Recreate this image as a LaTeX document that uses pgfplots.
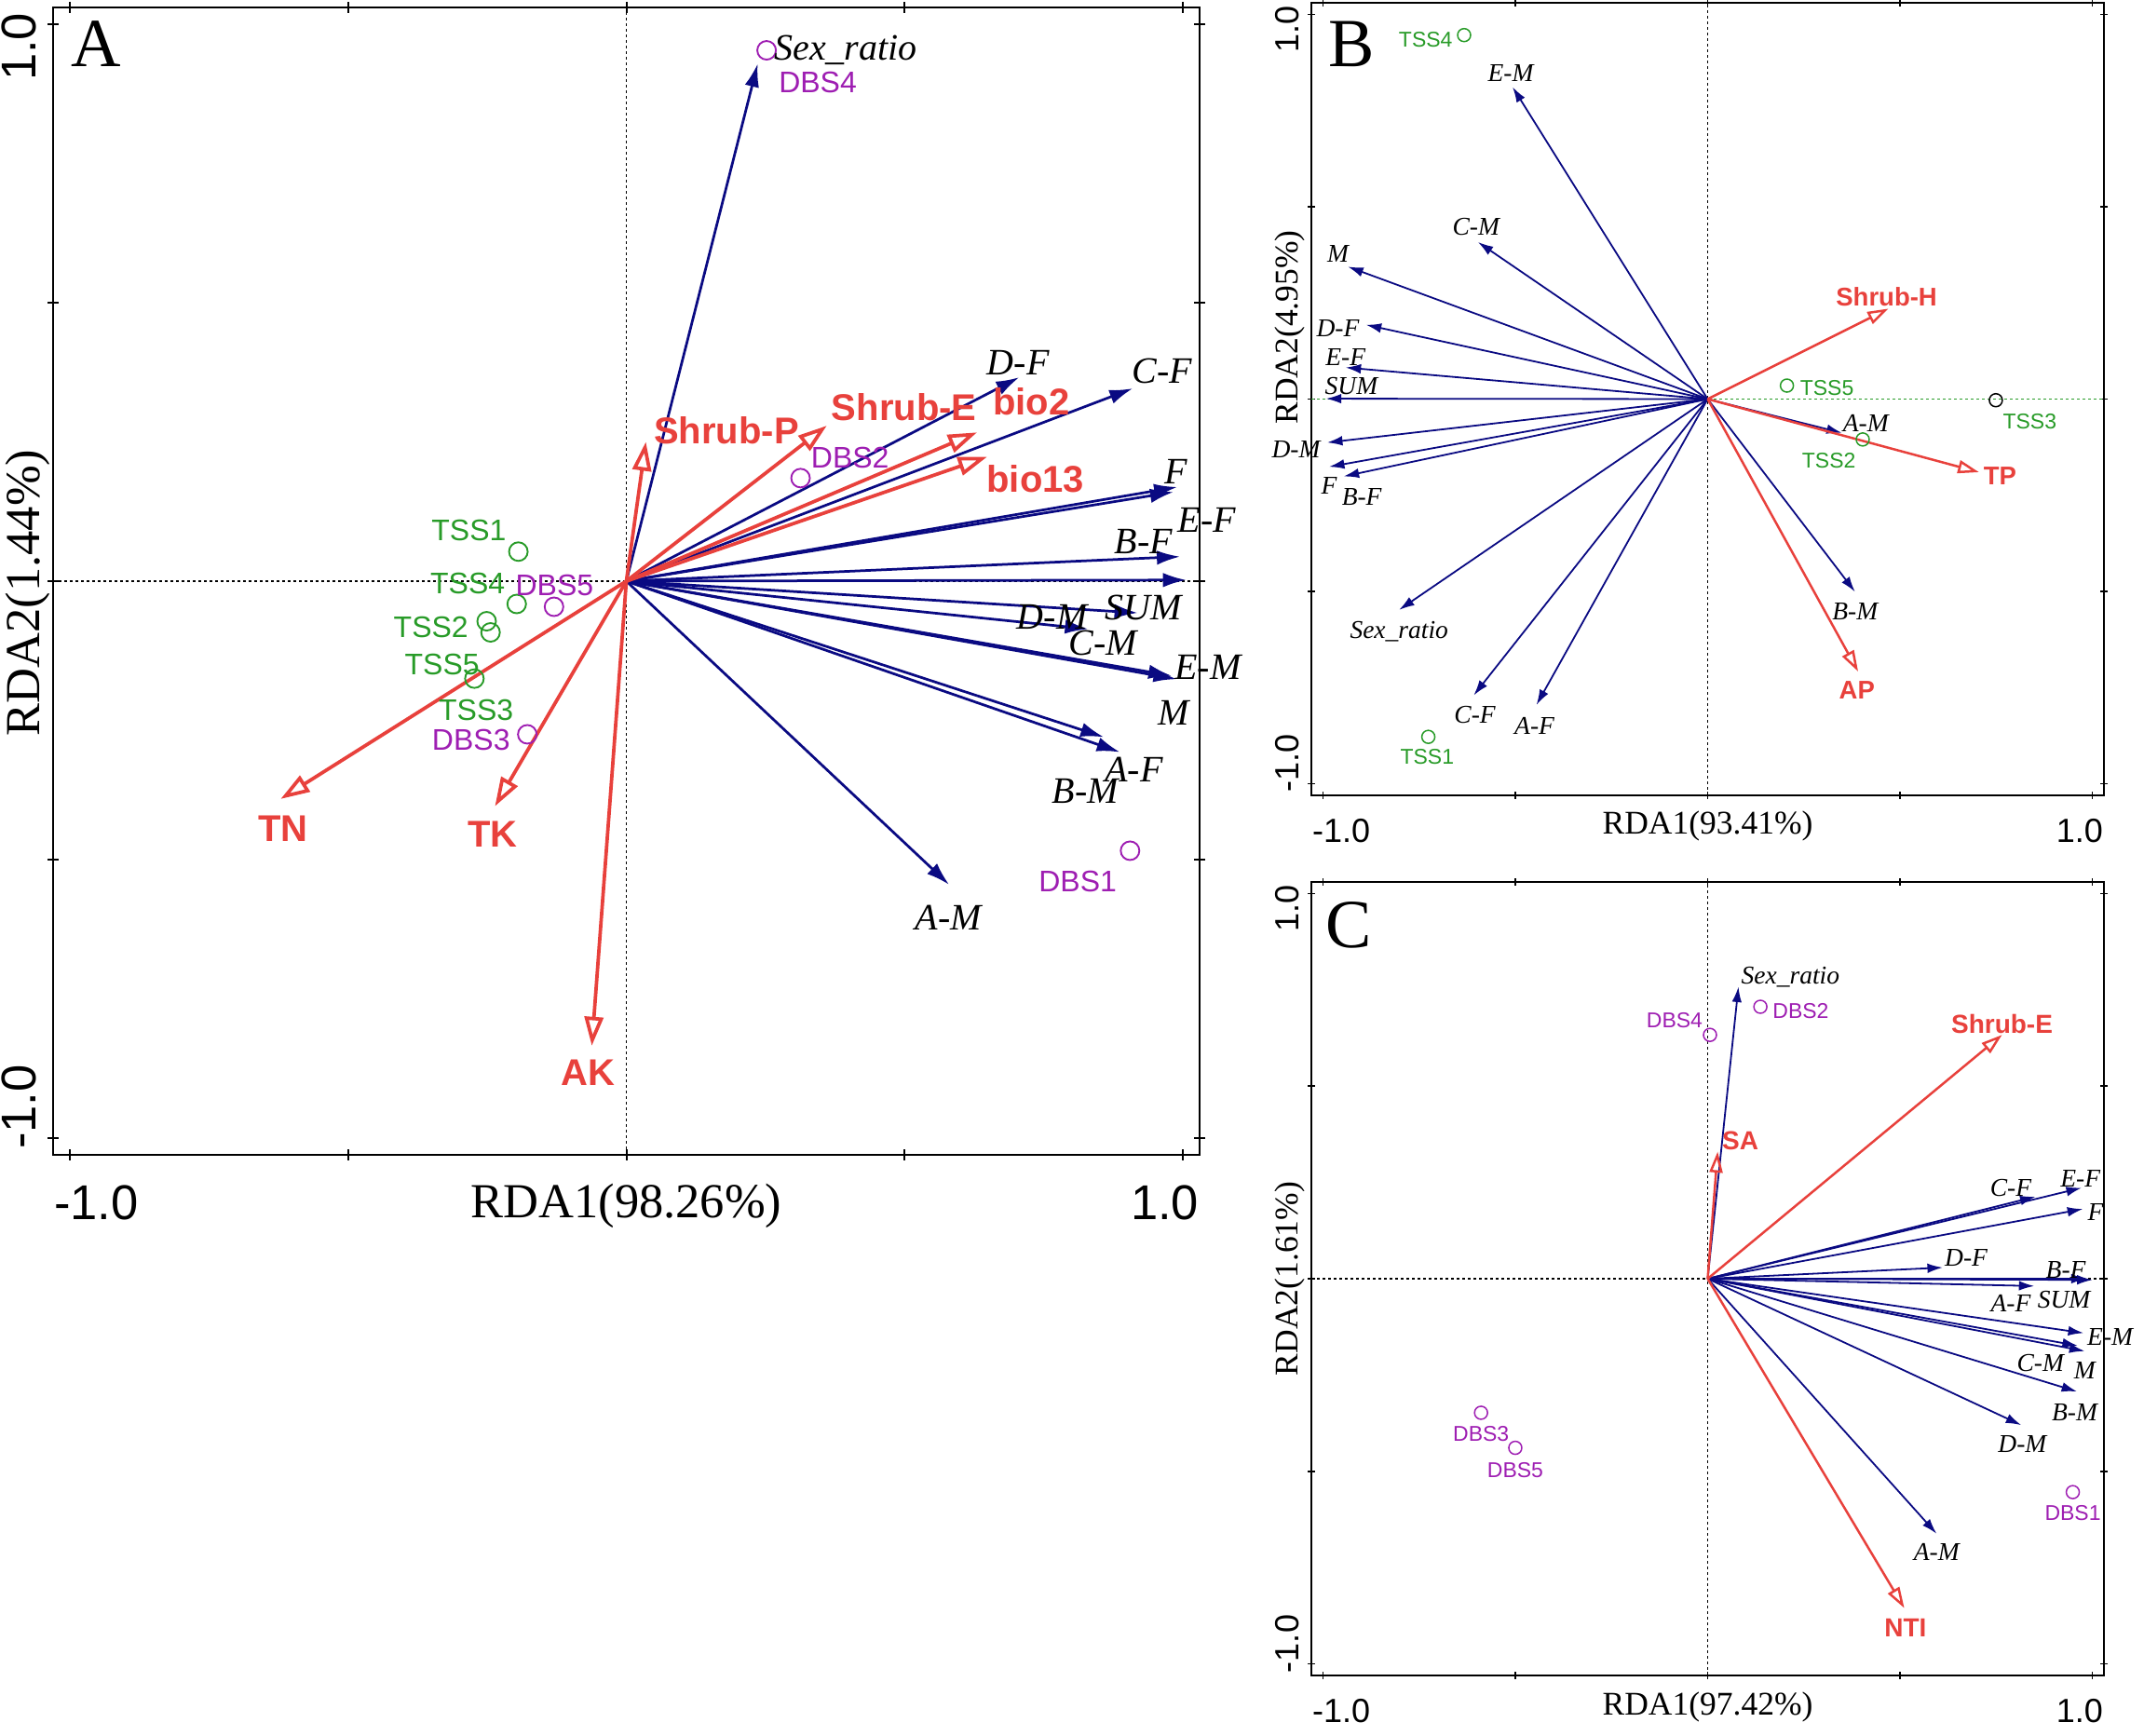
\documentclass[border=0pt]{standalone}
\usepackage{fontspec}
\setmainfont{Liberation Serif}
\setsansfont{Liberation Sans}
\usepackage{pgfplots}
\usepackage{pgfplotstable}
\pgfplotsset{compat=1.18}
\usetikzlibrary{arrows.meta}

\definecolor{rdablue}{RGB}{10,10,130}
\definecolor{rdared}{RGB}{232,65,60}
\definecolor{rdagreen}{RGB}{40,155,40}
\definecolor{rdapurple}{RGB}{158,30,178}

% x y = arrow tip, lx ly = centre of its label
\pgfplotstableread{
x y lx ly name
0.236 0.929 0.394 0.954 {Sex\_ratio}
0.706 0.366 0.704 0.393 D-F
0.910 0.346 0.963 0.377 C-F
0.990 0.169 0.987 0.197 F
0.983 0.160 1.043 0.109 E-F
0.995 0.044 0.929 0.071 B-F
1.006 0.002 0.929 -0.047 SUM
0.919 -0.057 0.765 -0.065 D-M
0.830 -0.086 0.857 -0.111 C-M
0.989 -0.176 1.045 -0.155 E-M
0.980 -0.170 0.984 -0.237 M
0.887 -0.307 0.912 -0.339 A-F
0.858 -0.280 0.825 -0.377 B-M
0.580 -0.545 0.579 -0.604 A-M
}\Asp
\pgfplotstableread{
x y lx ly name
0.035 0.250 0.180 0.271 Shrub-P
0.360 0.279 0.499 0.312 Shrub-E
0.630 0.267 0.728 0.322 bio2
0.648 0.223 0.735 0.183 bio13
-0.621 -0.391 -0.617 -0.444 TN
-0.236 -0.404 -0.240 -0.455 TK
-0.062 -0.834 -0.069 -0.882 AK
}\Aenv
\pgfplotstableread{
x y lx ly name
-0.194 0.053 -0.283 0.091 TSS1
-0.197 -0.041 -0.285 -0.004 TSS4
-0.251 -0.072 -0.351 -0.082 TSS2
-0.244 -0.092 -0.331 -0.149 TSS5
-0.273 -0.175 -0.270 -0.231 TSS3
}\Atss
\pgfplotstableread{
x y lx ly name
0.252 0.953 0.344 0.896 DBS4
0.313 0.185 0.402 0.221 DBS2
-0.130 -0.046 -0.129 -0.008 DBS5
-0.178 -0.275 -0.279 -0.285 DBS3
0.905 -0.484 0.811 -0.540 DBS1
}\Adbs

\pgfplotstableread{
x y lx ly name
-0.507 0.811 -0.512 0.846 E-M
-0.597 0.408 -0.602 0.447 C-M
-0.935 0.344 -0.961 0.377 M
-0.888 0.193 -0.961 0.184 D-F
-0.941 0.082 -0.941 0.110 E-F
-0.992 0.001 -0.926 0.033 SUM
-0.989 -0.113 -1.070 -0.130 D-M
-0.984 -0.176 -0.984 -0.226 F
-0.946 -0.201 -0.899 -0.255 B-F
-0.802 -0.548 -0.802 -0.604 {Sex\_ratio}
-0.608 -0.770 -0.605 -0.821 C-F
-0.445 -0.795 -0.450 -0.849 A-F
0.349 -0.088 0.411 -0.062 A-M
0.383 -0.501 0.383 -0.552 B-M
}\Bsp
\pgfplotstableread{
x y lx ly name
0.470 0.235 0.465 0.266 Shrub-H
0.705 -0.190 0.760 -0.201 TP
0.391 -0.708 0.388 -0.756 AP
}\Benv
\pgfplotstableread{
x y lx ly name
-0.633 0.946 -0.733 0.934 TSS4
0.206 0.035 0.310 0.028 TSS5
0.749 -0.003 0.837 -0.059 TSS3
0.403 -0.105 0.315 -0.161 TSS2
-0.726 -0.878 -0.729 -0.930 TSS1
}\Btss

\pgfplotstableread{
x y lx ly name
0.080 0.758 0.215 0.783 {Sex\_ratio}
0.852 0.213 0.788 0.236 C-F
0.972 0.236 0.969 0.261 E-F
0.975 0.181 1.008 0.172 F
0.611 0.029 0.672 0.054 D-F
0.985 0.000 0.931 0.022 B-F
1.000 -0.003 0.926 -0.055 SUM
0.849 -0.019 0.788 -0.065 A-F
0.977 -0.141 1.046 -0.152 E-M
0.962 -0.174 0.865 -0.219 C-M
0.980 -0.188 0.980 -0.239 M
0.960 -0.293 0.954 -0.348 B-M
0.815 -0.380 0.818 -0.430 D-M
0.595 -0.662 0.595 -0.710 A-M
}\Csp
\pgfplotstableread{
x y lx ly name
0.765 0.633 0.765 0.662 Shrub-E
0.026 0.330 0.085 0.359 SA
0.511 -0.855 0.514 -0.906 NTI
}\Cenv
\pgfplotstableread{
x y lx ly name
0.006 0.633 -0.086 0.671 DBS4
0.137 0.706 0.242 0.696 DBS2
-0.589 -0.348 -0.589 -0.403 DBS3
-0.500 -0.439 -0.500 -0.496 DBS5
0.949 -0.554 0.949 -0.609 DBS1
}\Cdbs

\pgfplotsset{
  rda/.style={scale only axis, clip=false,
    xmin=-1.03, xmax=1.03, ymin=-1.03, ymax=1.03,
    xtick={-1,-0.5,0,0.5,1}, ytick={-1,-0.5,0,0.5,1},
    xticklabels={}, yticklabels={},
    tick align=center, major tick length=#1,
    axis line style={line width=0.45pt},
    every tick/.style={black, line width=0.4pt}},
  zero/.style={black, line width=0.3pt, dash pattern=on 0.6pt off 0.6pt},
  arr/.style n args={4}{#1, line width=#2, #4,
    quiver={u=\thisrow{x}, v=\thisrow{y}}},
  lab/.style 2 args={draw=none, mark=none, nodes near coords,
    point meta=explicit symbolic,
    every node near coord/.style={anchor=center, inner sep=0pt, text=#1, font=#2}},
  pts/.style 2 args={only marks, mark=o, mark size=#2, #1,
    mark options={line width=0.38pt}},
}

\newcommand{\fs}[1]{\fontsize{#1}{#1}\selectfont}

\begin{document}
\begin{tikzpicture}
\useasboundingbox (0,0) rectangle (460.4pt,372.6pt);

% ---------------- A ----------------
\begin{axis}[rda=2.4pt, at={(11.4pt,371.0pt)}, anchor=north west,
  width=246.2pt, height=246.4pt]
  \addplot[zero] coordinates {(-1.03,0) (1.03,0)};
  \addplot[zero] coordinates {(0,-1.03) (0,1.03)};
  \addplot[arr={rdablue}{0.55pt}{}{-{Latex[length=5pt,width=3.1pt]}}]
    table[x expr=0, y expr=0] {\Asp};
  \addplot[arr={rdared}{0.75pt}{}{-{Triangle[open,length=6.2pt,width=4pt]}}]
    table[x expr=0, y expr=0] {\Aenv};
  \addplot[pts={rdagreen}{2pt}] table[x=x, y=y] {\Atss};
  \addplot[pts={rdapurple}{2pt}] table[x=x, y=y] {\Adbs};
  \addplot[lab={black}{\fs{8}\itshape}] table[x=lx, y=ly, meta=name] {\Asp};
  \addplot[lab={rdared}{\fs{8}\sffamily\bfseries}] table[x=lx, y=ly, meta=name] {\Aenv};
  \addplot[lab={rdagreen}{\fs{6.4}\sffamily}] table[x=lx, y=ly, meta=name] {\Atss};
  \addplot[lab={rdapurple}{\fs{6.4}\sffamily}] table[x=lx, y=ly, meta=name] {\Adbs};
  % tick numbers and titles
  \node[anchor=north west, inner sep=0pt, font=\fs{10.5}\sffamily]
    at ([yshift=-6.4pt]rel axis cs:0,0) {-1.0};
  \node[anchor=north east, inner sep=0pt, font=\fs{10.5}\sffamily]
    at ([yshift=-6.4pt]rel axis cs:1,0) {1.0};
  \node[rotate=90, anchor=south east, inner sep=0pt, font=\fs{10.5}\sffamily]
    at ([xshift=-3.4pt,yshift=-1pt]rel axis cs:0,1) {1.0};
  \node[rotate=90, anchor=south west, inner sep=0pt, font=\fs{10.5}\sffamily]
    at ([xshift=-3.4pt,yshift=1pt]rel axis cs:0,0) {-1.0};
  \node[anchor=base, inner sep=0pt, font=\fs{10.5}]
    at ([yshift=-13.6pt]axis description cs:0.5,0) {RDA1(98.26\%)};
  \node[rotate=90, anchor=base, inner sep=0pt, font=\fs{10.5}]
    at ([xshift=-3pt,yshift=-2.5pt]axis description cs:0,0.5) {RDA2(1.44\%)};
  \node[anchor=north west, inner sep=0pt, font=\fs{14.8}]
    at ([xshift=3.6pt,yshift=-2.8pt]rel axis cs:0,1) {A};
\end{axis}

% ---------------- B ----------------
\begin{axis}[rda=1.6pt, at={(281.6pt,372.0pt)}, anchor=north west,
  width=170.2pt, height=170.2pt, axis line style={line width=0.32pt},
  every tick/.style={black, line width=0.3pt}]
  \addplot[zero, rdagreen] coordinates {(-1.03,0) (1.03,0)};
  \addplot[zero] coordinates {(0,-1.03) (0,1.03)};
  \addplot[arr={rdablue}{0.36pt}{}{-{Latex[length=3.3pt,width=2.1pt]}}]
    table[x expr=0, y expr=0] {\Bsp};
  \addplot[arr={rdared}{0.5pt}{}{-{Triangle[open,length=4.5pt,width=2.8pt]}}]
    table[x expr=0, y expr=0] {\Benv};
  \addplot[pts={rdagreen}{1.4pt}, mark options={line width=0.3pt}]
    coordinates {(-0.633,0.946) (0.206,0.035) (0.403,-0.105) (-0.726,-0.878)};
  \addplot[pts={black}{1.4pt}, mark options={line width=0.3pt}]
    coordinates {(0.749,-0.003)};
  \addplot[lab={black}{\fs{5.5}\itshape}] table[x=lx, y=ly, meta=name] {\Bsp};
  \addplot[lab={rdared}{\fs{5.5}\sffamily\bfseries}] table[x=lx, y=ly, meta=name] {\Benv};
  \addplot[lab={rdagreen}{\fs{4.6}\sffamily}] table[x=lx, y=ly, meta=name] {\Btss};
  \node[anchor=north west, inner sep=0pt, font=\fs{7.2}\sffamily]
    at ([yshift=-4.8pt]rel axis cs:0,0) {-1.0};
  \node[anchor=north east, inner sep=0pt, font=\fs{7.2}\sffamily]
    at ([yshift=-4.8pt]rel axis cs:1,0) {1.0};
  \node[rotate=90, anchor=south east, inner sep=0pt, font=\fs{7.2}\sffamily]
    at ([xshift=-2.4pt,yshift=-0.4pt]rel axis cs:0,1) {1.0};
  \node[rotate=90, anchor=south west, inner sep=0pt, font=\fs{7.2}\sffamily]
    at ([xshift=-2.4pt,yshift=0.4pt]rel axis cs:0,0) {-1.0};
  \node[anchor=base, inner sep=0pt, font=\fs{7.1}]
    at ([yshift=-8.4pt]axis description cs:0.5,0) {RDA1(93.41\%)};
  \node[rotate=90, anchor=base, inner sep=0pt, font=\fs{7.1}]
    at ([xshift=-3pt,yshift=15.4pt]axis description cs:0,0.5) {RDA2(4.95\%)};
  \node[anchor=north west, inner sep=0pt, font=\fs{14.8}]
    at ([xshift=3.4pt,yshift=-3.8pt]rel axis cs:0,1) {B};
\end{axis}

% ---------------- C ----------------
\begin{axis}[rda=1.6pt, at={(281.6pt,183.2pt)}, anchor=north west,
  width=170.2pt, height=170.4pt, axis line style={line width=0.32pt},
  every tick/.style={black, line width=0.3pt}]
  \addplot[zero] coordinates {(-1.03,0) (1.03,0)};
  \addplot[zero] coordinates {(0,-1.03) (0,1.03)};
  \addplot[arr={rdablue}{0.36pt}{}{-{Latex[length=3.3pt,width=2.1pt]}}]
    table[x expr=0, y expr=0] {\Csp};
  \addplot[arr={rdared}{0.5pt}{}{-{Triangle[open,length=4.5pt,width=2.8pt]}}]
    table[x expr=0, y expr=0] {\Cenv};
  \addplot[pts={rdapurple}{1.4pt}, mark options={line width=0.3pt}]
    table[x=x, y=y] {\Cdbs};
  \addplot[lab={black}{\fs{5.5}\itshape}] table[x=lx, y=ly, meta=name] {\Csp};
  \addplot[lab={rdared}{\fs{5.6}\sffamily\bfseries}] table[x=lx, y=ly, meta=name] {\Cenv};
  \addplot[lab={rdapurple}{\fs{4.6}\sffamily}] table[x=lx, y=ly, meta=name] {\Cdbs};
  \node[anchor=north west, inner sep=0pt, font=\fs{7.2}\sffamily]
    at ([yshift=-4.8pt]rel axis cs:0,0) {-1.0};
  \node[anchor=north east, inner sep=0pt, font=\fs{7.2}\sffamily]
    at ([yshift=-4.8pt]rel axis cs:1,0) {1.0};
  \node[rotate=90, anchor=south east, inner sep=0pt, font=\fs{7.2}\sffamily]
    at ([xshift=-2.4pt,yshift=-0.4pt]rel axis cs:0,1) {1.0};
  \node[rotate=90, anchor=south west, inner sep=0pt, font=\fs{7.2}\sffamily]
    at ([xshift=-2.4pt,yshift=0.4pt]rel axis cs:0,0) {-1.0};
  \node[anchor=base, inner sep=0pt, font=\fs{7.1}]
    at ([yshift=-8.4pt]axis description cs:0.5,0) {RDA1(97.42\%)};
  \node[rotate=90, anchor=base, inner sep=0pt, font=\fs{7.1}]
    at ([xshift=-3pt]axis description cs:0,0.5) {RDA2(1.61\%)};
  \node[anchor=north west, inner sep=0pt, font=\fs{14.8}]
    at ([xshift=2.8pt,yshift=-4.2pt]rel axis cs:0,1) {C};
\end{axis}
\end{tikzpicture}
\end{document}
